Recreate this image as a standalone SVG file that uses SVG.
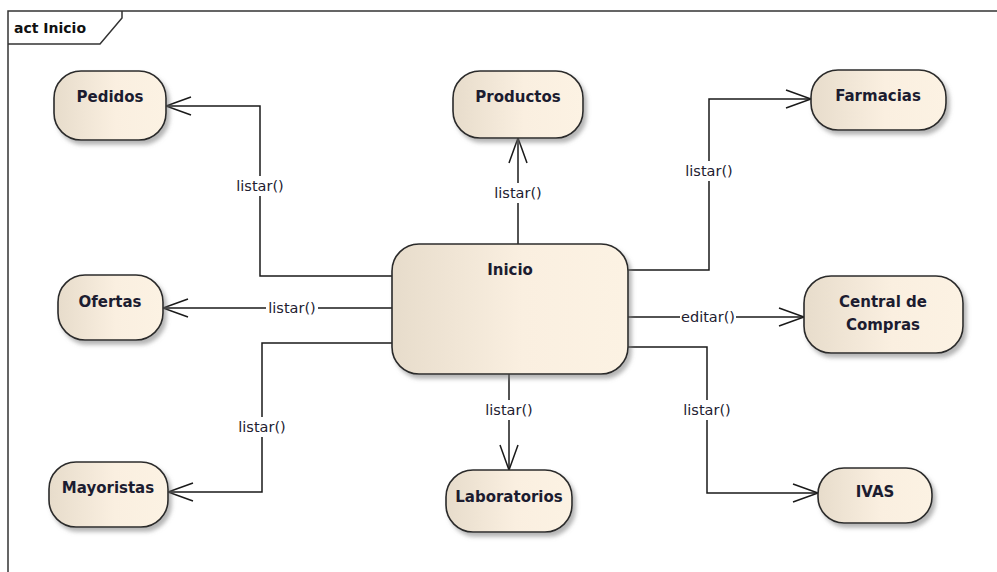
<svg xmlns="http://www.w3.org/2000/svg" width="997" height="572" viewBox="0 0 997 572">
<style>
.node{fill:url(#g);stroke:#2b2b2b;stroke-width:1.6;filter:url(#sh)}
.nt{font-family:"DejaVu Sans",sans-serif;font-weight:bold;font-size:15px;fill:#1c1c30;text-anchor:middle}
.lbl{font-family:"DejaVu Sans",sans-serif;font-size:14.5px;fill:#222030;text-anchor:middle}
.bg{fill:#fff}
.edge{fill:none;stroke:#1a1a1a;stroke-width:1.5;marker-end:url(#arr)}
.frame{fill:none;stroke:#333;stroke-width:1.5}
</style>
<defs>
<linearGradient id="g" x1="0" y1="0" x2="1" y2="0">
<stop offset="0" stop-color="#e7dccb"/>
<stop offset="0.55" stop-color="#faefe0"/>
<stop offset="1" stop-color="#fcf2e3"/>
</linearGradient>
<filter id="sh" x="-10%" y="-10%" width="130%" height="140%">
<feDropShadow dx="3" dy="4" stdDeviation="2.2" flood-color="#777" flood-opacity="0.55"/>
</filter>
<marker id="arr" viewBox="-27 -11 30 22" refX="0" refY="0" markerWidth="30" markerHeight="22" markerUnits="userSpaceOnUse" orient="auto">
<path d="M-25,-9 L0,0 L-25,9" fill="none" stroke="#1a1a1a" stroke-width="1.5"/>
</marker>
</defs>
<rect width="997" height="572" fill="#fff"/>
<g id="frame">
<path class="frame" d="M8,572 L8,11 L997,11"/>
<path class="frame" d="M8,44 L100,44 L122,18 L122,11"/>
<text x="14" y="33" style="font-family:'DejaVu Sans',sans-serif;font-weight:bold;font-size:14px;fill:#111">act Inicio</text>
</g>
<g id="connectors">
<path class="edge" d="M392,276 L260,276 L260,106 L166,106"/>
<path class="edge" d="M518,244 L518,138"/>
<path class="edge" d="M628,270 L709,270 L709,99 L811,99"/>
<path class="edge" d="M392,308 L163,308"/>
<path class="edge" d="M628,317 L804,317"/>
<path class="edge" d="M392,343 L262,343 L262,492 L168,492"/>
<path class="edge" d="M509,374 L509,470"/>
<path class="edge" d="M628,347 L707,347 L707,493 L818,493"/>
<rect class="bg" x="234" y="176" width="52" height="20"/>
<text class="lbl" x="260" y="191">listar()</text>
<rect class="bg" x="492" y="183" width="52" height="20"/>
<text class="lbl" x="518" y="198">listar()</text>
<rect class="bg" x="683" y="161" width="52" height="20"/>
<text class="lbl" x="709" y="176">listar()</text>
<rect class="bg" x="266" y="298" width="52" height="20"/>
<text class="lbl" x="292" y="313">listar()</text>
<rect class="bg" x="680" y="307" width="56" height="20"/>
<text class="lbl" x="708" y="322">editar()</text>
<rect class="bg" x="236" y="417" width="52" height="20"/>
<text class="lbl" x="262" y="432">listar()</text>
<rect class="bg" x="483" y="400" width="52" height="20"/>
<text class="lbl" x="509" y="415">listar()</text>
<rect class="bg" x="681" y="400" width="52" height="20"/>
<text class="lbl" x="707" y="415">listar()</text>
</g>
<g id="inicio"><rect class="node" x="392" y="244" width="236" height="130" rx="27"/><text class="nt" x="510" y="275">Inicio</text></g>
<g id="pedidos"><rect class="node" x="54" y="71" width="112" height="69" rx="27"/><text class="nt" x="110" y="102">Pedidos</text></g>
<g id="productos"><rect class="node" x="453" y="71" width="130" height="67" rx="27"/><text class="nt" x="518" y="102">Productos</text></g>
<g id="farmacias"><rect class="node" x="811" y="70" width="135" height="60" rx="27"/><text class="nt" x="878" y="101">Farmacias</text></g>
<g id="ofertas"><rect class="node" x="58" y="275" width="105" height="65" rx="27"/><text class="nt" x="110" y="307">Ofertas</text></g>
<g id="central"><rect class="node" x="804" y="276" width="159" height="77" rx="27"/><text class="nt" x="883" y="307">Central de</text><text class="nt" x="883" y="330">Compras</text></g>
<g id="mayoristas"><rect class="node" x="49" y="462" width="119" height="65" rx="27"/><text class="nt" x="108" y="493">Mayoristas</text></g>
<g id="laboratorios"><rect class="node" x="446" y="470" width="126" height="62" rx="27"/><text class="nt" x="509" y="502">Laboratorios</text></g>
<g id="ivas"><rect class="node" x="818" y="468" width="114" height="55" rx="26"/><text class="nt" x="875" y="497">IVAS</text></g>
</svg>
